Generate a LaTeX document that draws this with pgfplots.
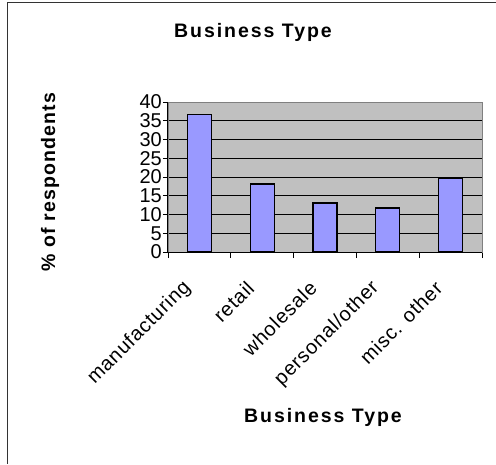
\documentclass[border=0pt]{standalone}
\usepackage{fontspec}
\setmainfont{Liberation Sans}
\usepackage{pgfplots}
\pgfplotsset{compat=1.18}
\definecolor{barblue}{HTML}{9999FF}
\definecolor{plotgray}{HTML}{C0C0C0}
\newfontfamily\spacedbold[LetterSpace=10]{Liberation Sans Bold}
\newfontfamily\spacedboldy[LetterSpace=6]{Liberation Sans Bold}
\begin{document}
\begin{tikzpicture}[x=1pt,y=1pt]
\path[use as bounding box] (0,0) rectangle (496,464);
\draw[line width=1.3pt, black!80] (7.8,0) -- (7.8,461.8) -- (496,461.8);
\node at (253,432) {\fontsize{19.5}{21}\spacedbold Business Type};
\node at (323,47) {\fontsize{19.5}{21}\spacedbold Business Type};
\node[rotate=90] at (50,282) {\fontsize{19.5}{21}\spacedboldy \% of respondents};
\begin{axis}[
  at={(168pt,212pt)}, anchor=south west,
  scale only axis, width=314pt, height=150pt,
  xmin=-0.5, xmax=4.5, ymin=0, ymax=40,
  ytick={0,5,...,40},
  xtick={0,1,2,3,4},
  xticklabels={manufacturing,retail,wholesale,personal/other,misc. other},
  minor xtick={-0.5,0.5,1.5,2.5,3.5,4.5},
  tick pos=left,
  tick align=outside,
  major tick length=5pt,
  minor tick length=6pt,
  xtick style={draw=none},
  minor x tick style={draw=black, line width=0.8pt},
  ytick style={draw=black, line width=0.8pt},
  ymajorgrids,
  grid style={black, line width=0.7pt},
  axis background/.style={fill=plotgray},
  axis line style={draw=gray, line width=0.8pt},
  /pgf/number format/assume math mode=true,
  yticklabel style={font=\fontsize{20}{20}\selectfont, inner sep=1pt},
  xticklabel shift=27pt,
  xticklabel style={xshift=-11pt, font=\fontsize{20}{20}\selectfont\addfontfeature{LetterSpace=4}, rotate=45, anchor=east, inner sep=1pt},
  ybar, bar width=24pt,
  after end axis/.code={
    \draw[black, line width=1pt] (rel axis cs:0,1) -- (rel axis cs:0,0) -- (rel axis cs:1,0);
  },
]
\addplot[fill=barblue, draw=black, line width=1.3pt] coordinates {(0,36.7) (1,18.1) (2,13.1) (3,11.7) (4,19.6)};
\end{axis}
\end{tikzpicture}
\end{document}
